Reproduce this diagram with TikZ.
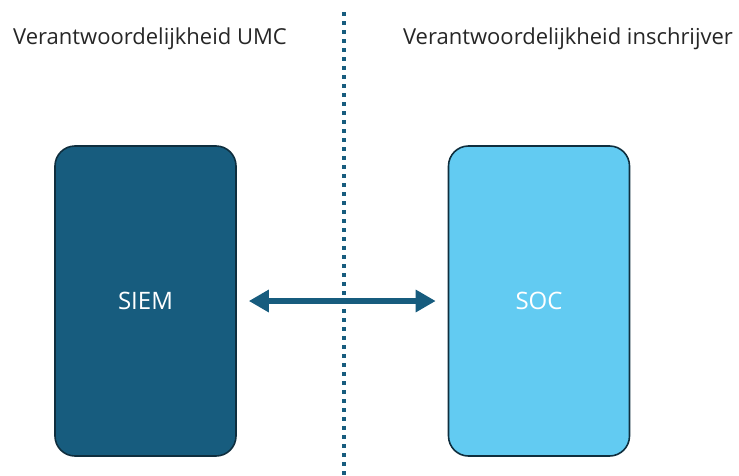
\documentclass[tikz,border=0pt]{standalone}
\usepackage{fontspec}
\setmainfont{Open Sans}
\usetikzlibrary{arrows.meta}
\definecolor{darkblue}{HTML}{175C7E}
\definecolor{lightblue}{HTML}{62CBF2}
\definecolor{edgecol}{HTML}{0F2E3E}
\tikzset{
  box/.style={draw=edgecol, line width=1.2pt, rounded corners=15pt, minimum width=181*0.75pt, minimum height=310*0.75pt, inner sep=0pt},
  heading/.style={font=\fontsize{16.5}{19}\selectfont, text=black!85, inner sep=0pt, anchor=center},
  boxlabel/.style={font=\fontsize{18}{21}\selectfont, text=white},
  dotline/.style={draw=darkblue, line width=3pt, dash pattern=on 3pt off 3.75pt},
  bidir/.style={draw=darkblue, line width=4.2pt, {Triangle[length=15pt,width=16pt]}-{Triangle[length=15pt,width=16pt]}}
}
\begin{document}
\begin{tikzpicture}[x=0.75pt,y=-0.75pt]
\useasboundingbox (0,0) rectangle (739,475);
\coordinate (dtop) at (344,12);
\coordinate (dbot) at (344,475);
\draw[dotline] (dtop) -- (dbot);
\node[heading] (lhead) at (150,39) {Verantwoordelijkheid UMC};
\node[heading] (rhead) at (568,39) {Verantwoordelijkheid inschrijver};
\node[box, fill=darkblue] (siem) at (145.5,301) {};
\node[box, fill=lightblue] (soc) at (539,301) {};
\node[boxlabel] at (siem) {SIEM};
\node[boxlabel] at (soc) {SOC};
\draw[bidir] ([xshift=9pt]siem.east) -- ([xshift=-9pt]soc.west);
\end{tikzpicture}
\end{document}
